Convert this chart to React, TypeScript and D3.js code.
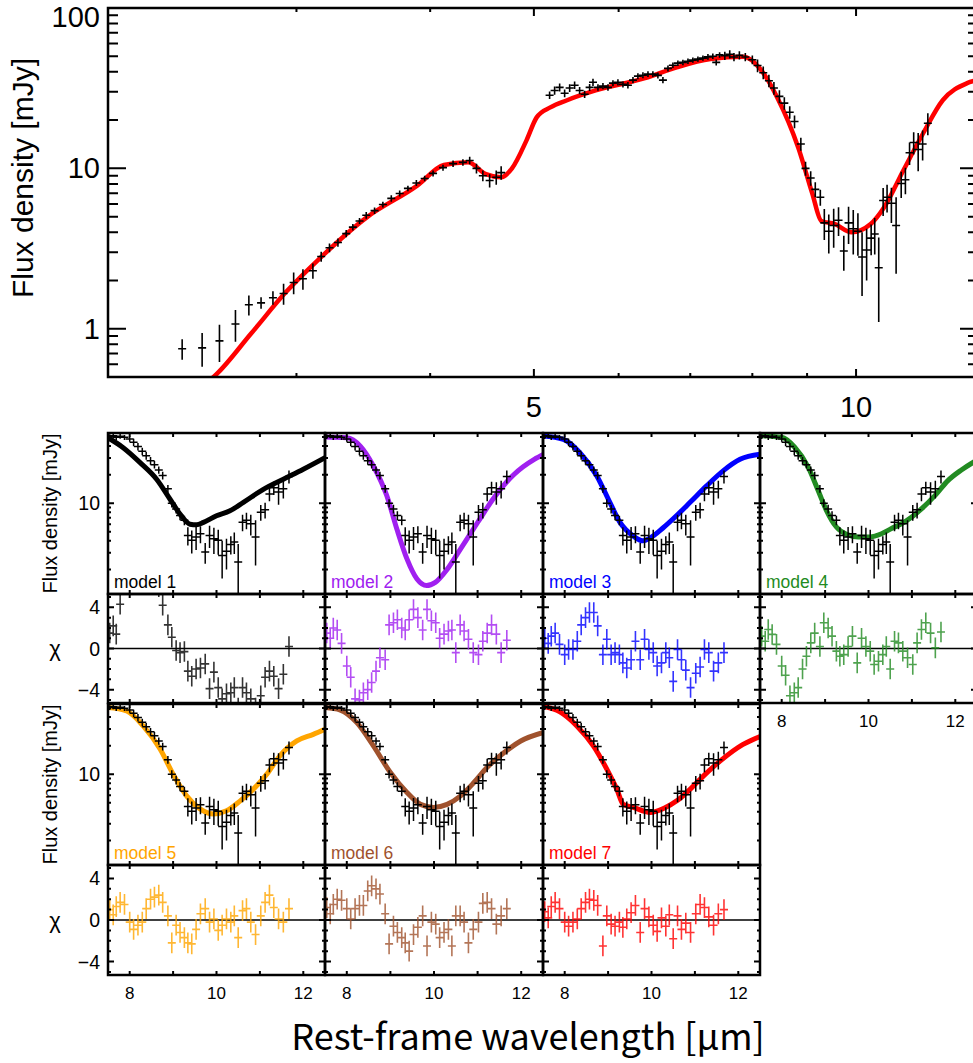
import React, { useEffect, useRef } from 'react';
import * as d3 from 'd3';

// spectrum below 7.5 um (only in the top panel): wavelength [um], flux [mJy], error [mJy]
const shortLam = [2.346, 2.449, 2.542, 2.631, 2.708, 2.78, 2.852, 2.918, 2.982, 3.042, 3.108, 3.164, 3.221, 3.28, 3.339, 3.387, 3.436, 3.486, 3.549, 3.613, 3.679, 3.746, 3.813, 3.883, 3.953, 4.025, 4.112, 4.202, 4.292, 4.355, 4.419, 4.48, 4.546, 4.611, 4.66, 5.172, 5.228, 5.285, 5.342, 5.4, 5.458, 5.517, 5.577, 5.637, 5.678, 5.739, 5.801, 5.864, 5.927, 5.991, 6.056, 6.121, 6.188, 6.254, 6.322, 6.391, 6.459, 6.529, 6.6, 6.672, 6.743, 6.816, 6.89, 6.965, 7.039, 7.116, 7.193, 7.271, 7.348, 7.402, 7.456];
const shortFlux = [0.75, 0.76, 0.84, 1.07, 1.41, 1.45, 1.56, 1.66, 1.94, 2.05, 2.3, 2.82, 3.2, 3.45, 3.92, 4.3, 4.7, 5.1, 5.45, 5.95, 6.5, 6.97, 7.5, 8.1, 8.65, 9.3, 10.1, 10.7, 10.9, 11.2, 10.0, 9.0, 8.4, 8.8, 9.4, 28.6, 30.6, 32, 29.4, 31.7, 33, 30.6, 29, 32, 34.4, 32, 32.6, 32, 34, 34.4, 33.4, 33, 35.5, 37.6, 38.1, 38.7, 38.7, 38, 35.5, 42, 44, 45.3, 45.8, 46.6, 47.3, 48, 48.7, 49.6, 50, 45.8, 51];
const shortErr = [0.11, 0.18, 0.22, 0.24, 0.2, 0.12, 0.15, 0.25, 0.3, 0.3, 0.25, 0.2, 0.2, 0.2, 0.2, 0.2, 0.2, 0.25, 0.25, 0.25, 0.3, 0.3, 0.3, 0.35, 0.35, 0.4, 0.45, 0.5, 0.5, 0.6, 0.7, 0.7, 0.8, 0.9, 0.9, 1.5, 1.8, 1.8, 1.6, 1.8, 1.8, 1.6, 1.5, 1.6, 1.8, 1.5, 1.5, 1.5, 1.5, 1.5, 1.5, 1.5, 1.6, 1.6, 1.6, 1.6, 1.6, 1.6, 1.6, 1.8, 1.8, 1.8, 1.8, 1.8, 1.8, 1.8, 1.8, 2.0, 2.0, 2.0, 2.0];

// spectrum 7.5 - 11.7 um (top panel and every model panel)
const gridLam = [7.54, 7.62, 7.69, 7.78, 7.88, 8.0, 8.09, 8.19, 8.29, 8.38, 8.48, 8.57, 8.67, 8.76, 8.88, 8.97, 9.07, 9.16, 9.26, 9.34, 9.43, 9.53, 9.63, 9.74, 9.84, 9.94, 10.04, 10.13, 10.23, 10.33, 10.41, 10.5, 10.6, 10.69, 10.79, 10.9, 11.02, 11.12, 11.22, 11.32, 11.43, 11.54, 11.67];
const gridFlux = [50.4, 51.5, 49.5, 50.7, 49.5, 47.6, 43.8, 39.5, 35.2, 31.7, 28.1, 25.5, 22.4, 19.6, 14.2, 10.0, 8.7, 7.4, 6.6, 4.57, 4.05, 4.4, 4.75, 3.05, 4.57, 4.2, 4.05, 2.8, 3.1, 3.67, 3.9, 2.4, 6.3, 6.6, 6.06, 4.4, 8.04, 8.5, 12.5, 14.5, 13.1, 14.2, 19.1];
const gridErr = [3, 3, 3, 3, 3, 3, 4.0, 3.6, 3.2, 2.9, 2.6, 2.3, 2.0, 1.8, 1.3, 1.0, 0.9, 0.8, 0.75, 1.0, 1.1, 1.2, 0.97, 0.75, 1.2, 1.3, 1.2, 1.2, 1.1, 0.8, 1.0, 1.3, 1.25, 1.3, 1.5, 2.2, 1.5, 1.6, 2.0, 2.3, 3.5, 3.0, 3.0];

// best-fit model in the top panel [um, mJy]
const topModel: [number, number][] = [[2.45, 0.44], [2.51, 0.5], [2.72, 0.93], [2.93, 1.68], [3.16, 2.78], [3.49, 4.95], [3.89, 7.8], [4.12, 10.5], [4.34, 10.9], [4.51, 9.2], [4.66, 8.8], [4.77, 10], [4.92, 14.9], [5.03, 20.8], [5.18, 24], [5.37, 26.6], [5.71, 30.6], [6.35, 36.5], [6.81, 42.8], [7.31, 48], [7.85, 49.6], [8.13, 42], [8.44, 27.7], [8.83, 13.5], [9.1, 7.0], [9.28, 4.7], [9.55, 4.5], [9.9, 4.0], [10.32, 4.5], [10.62, 5.7], [11.07, 9.7], [11.55, 16.5], [12.05, 26.6], [12.7, 34], [13.1, 36]];

// silicate models 1-7 [um, mJy]
const model1: [number, number][] = [[7.5, 49], [7.85, 38.5], [8.24, 26.8], [8.62, 17.9], [8.93, 11.0], [9.16, 7.66], [9.39, 6.0], [9.54, 5.9], [9.7, 6.26], [10.0, 7.36], [10.31, 8.3], [10.62, 10.2], [11.08, 14.0], [11.54, 17.9], [12.0, 22.8], [12.5, 30.2]];
const model2: [number, number][] = [[7.5, 50], [8.0, 49], [8.31, 40], [8.61, 24.7], [8.92, 11.9], [9.15, 5.3], [9.38, 2.58], [9.61, 1.58], [9.83, 1.35], [10.03, 1.46], [10.3, 2.0], [10.61, 3.3], [11.0, 6.25], [11.38, 11.5], [11.84, 20.2], [12.3, 29], [12.52, 32.8]];
const model3: [number, number][] = [[7.5, 51], [7.97, 47], [8.35, 34], [8.74, 19.4], [9.04, 10.2], [9.27, 6.3], [9.58, 4.5], [9.8, 4.0], [9.97, 4.3], [10.27, 5.5], [10.58, 7.4], [10.89, 10.2], [11.27, 15.2], [11.65, 21.9], [12.04, 29], [12.5, 32.8]];
const model4: [number, number][] = [[7.5, 51.6], [8.0, 49.5], [8.3, 38.9], [8.61, 24.0], [8.84, 13.6], [9.03, 8.4], [9.26, 5.6], [9.49, 4.7], [9.76, 4.4], [10.03, 4.4], [10.3, 4.75], [10.53, 5.4], [10.76, 6.06], [10.99, 7.1], [11.22, 8.7], [11.53, 12.0], [11.83, 17.3], [12.14, 22.4], [12.5, 28.5]];
const model5: [number, number][] = [[7.5, 50.4], [7.93, 46.4], [8.31, 32.3], [8.7, 18.4], [9.0, 10], [9.31, 5.9], [9.62, 4.3], [9.93, 3.8], [10.23, 4.1], [10.54, 5.2], [10.85, 6.95], [11.16, 10], [11.46, 15.6], [11.85, 22.4], [12.23, 26.3], [12.5, 29.7]];
const model6: [number, number][] = [[7.5, 50.4], [7.85, 47.5], [8.23, 35], [8.61, 19.9], [9.0, 10.4], [9.38, 6.4], [9.69, 4.8], [9.99, 4.46], [10.3, 4.8], [10.61, 5.9], [10.92, 8.2], [11.22, 11.8], [11.61, 16.9], [11.99, 22.4], [12.49, 27.4]];
const model7: [number, number][] = [[7.5, 52], [7.89, 45.4], [8.28, 32.3], [8.66, 19.9], [8.97, 11.3], [9.2, 6.95], [9.35, 4.8], [9.58, 4.46], [9.97, 3.95], [10.3, 4.4], [10.6, 5.3], [10.9, 7.0], [11.2, 9.6], [11.6, 14], [12.1, 20.5], [12.5, 25]];

// residuals chi for each model, same wavelengths as gridLam
const chi1 = [1.5, 2.2, 1.4, 4.3, 7, 8, 9, 9, 9, 8, 8, 7, 6, 4.2, 2.3, 1.1, -0.2, -0.4, -0.3, -2.2, -2.7, -2.0, -1.9, -1.5, -3.9, -2.3, -3.8, -4.9, -4.4, -4.3, -3.8, -5.8, -3.8, -4.3, -4.9, -5.8, -4.6, -2.8, -2.2, -2.7, -3.9, -2.5, 0.2];
const chi2 = [1.5, 1.0, 2.0, 1.8, 0.5, -1.7, -2.8, -4.9, -5.0, -4.3, -4.0, -3.3, -2.2, -0.9, -1.1, 2.3, 2.5, 2.8, 2.0, 1.8, 2.8, 3.8, 3.0, 1.8, 3.8, 2.7, 2.5, 1.0, 1.4, 1.7, 1.8, -0.4, 2.3, 1.7, 0.9, -0.4, -0.6, 0.7, 1.5, 2.3, 1.4, -0.4, 0.8];
const chi3 = [1.0, 0.5, 1.2, 1.5, 0.4, -0.6, -0.1, -0.1, 0.7, 2.3, 3.0, 3.5, 3.5, 2.2, -0.6, 0.9, -0.6, -0.4, -0.6, -1.4, -1.9, -1.1, 0.7, -1.1, 0.9, -0.1, -0.4, -1.7, -1.4, -0.4, -0.9, -3.2, -0.1, -1.1, -2.1, -3.8, -2.4, -1.8, -0.1, -0.4, -2.2, -1.4, -0.4];
const chi4 = [1.2, 0.7, 1.85, 1.37, 0.4, -1.7, -2.6, -4.6, -4.3, -3.8, -2.0, -0.75, 0.55, 1.5, 0.2, 2.5, 2.0, 1.2, -0.26, -0.75, -0.6, 0.2, 1.2, -1.4, 1.0, 0.2, -0.26, -1.56, -1.24, -0.6, 0.2, -2.0, 0.7, 0.55, -0.26, -0.9, -1.56, 0.55, 1.85, 2.5, 1.5, 0.06, 1.6];
const chi5 = [1.0, 0.5, 1.3, 1.7, 1.5, -0.2, -0.9, -0.5, -0.2, 1.1, 2.0, 2.2, 2.4, 1.7, 0.4, -2.2, -0.5, -1.2, -1.7, -2.2, -2.3, -0.9, 0.6, 1.1, -0.2, 0.1, -1.0, -0.5, 0.1, -0.2, 0.4, -1.7, 0.9, 1.1, -0.2, -1.4, 0.4, 1.7, 2.4, 1.2, 0.1, -0.2, 1.1];
const chi6 = [1.2, 0.6, 1.5, 2.0, 1.9, 1.1, 0.1, 1.1, 1.4, 1.4, 2.8, 3.3, 3.0, 2.5, 0.6, -2.3, -0.6, -1.2, -1.7, -2.2, -3.0, -1.4, -0.7, 0.4, -2.5, -0.2, -0.4, -1.7, -1.2, -0.9, -2.5, 0.4, 0.4, -0.2, -2.2, -0.9, -0.2, 1.6, 1.7, 1.1, -0.4, 0.4, 1.1];
const chi7 = [0.8, 0.2, 1.3, 1.7, 1.1, -0.2, -0.6, -0.2, 0.1, 1.1, 1.7, 2.0, 1.9, 1.4, -2.5, 0.4, -0.4, -0.6, -0.2, -0.7, 0.1, 0.7, 1.4, -1.2, 1.1, 0.3, -0.5, -1.1, 0.2, -0.6, 0.5, -1.8, 0.4, -0.9, -0.3, -1.2, 0.6, 1.5, 1.2, 0.3, -0.5, 0.6, 1.0];

const modelNames = ['model 1', 'model 2', 'model 3', 'model 4', 'model 5', 'model 6', 'model 7'];
const modelColors = ['#000000', '#a020f0', '#0000ff', '#228b22', '#ffa500', '#a0522d', '#ff0000'];

const topXLabels = [5, 10];
const topYLabels = [1, 10, 100];
const smallXLabels = [8, 10, 12];
const smallYLabels = [10];
const chiLabels = [4, 0, -4];

const FONT = 'Liberation Sans, Arial, Helvetica, sans-serif';

const App: React.FC = () => {
  const svgRef = useRef<SVGSVGElement>(null);

  useEffect(() => {
    if (!svgRef.current) return;
    const svg = d3.select(svgRef.current);
    svg.selectAll('*').remove();
    const defs = svg.append('defs');

    const addClip = (id: string, x0: number, y0: number, x1: number, y1: number) => {
      defs.append('clipPath').attr('id', id).append('rect')
        .attr('x', x0).attr('y', y0).attr('width', x1 - x0).attr('height', y1 - y0);
    };

    // error-bar crosses
    const crosses = (g: any, lam: number[], val: number[], err: number[], x: any, y: any,
      hw: number, color: string, width: number, logY: boolean, opacity = 1) => {
      let d = '';
      lam.forEach((l, i) => {
        const v = val[i];
        const e = err[i];
        if (v === undefined) return;
        const px = x(l);
        const lo = logY ? Math.max(v - e, 0.05) : v - e;
        d += `M${px},${y(lo)}V${y(v + e)}M${px - hw},${y(v)}H${px + hw}`;
      });
      g.append('path').attr('d', d).attr('fill', 'none')
        .attr('stroke', color).attr('stroke-width', width).attr('stroke-opacity', opacity);
    };

    // border + inward ticks on all four sides
    const frame = (g: any, x: any, y: any, xTicks: number[], xMajor: (v: number) => boolean, xMaj: number, xMin: number,
      yTicks: number[], yMajor: (v: number) => boolean, yMaj: number, yMin: number, bw: number) => {
      const [x0, x1] = x.range();
      const [y0, y1] = y.range();
      let d = '';
      xTicks.forEach(v => {
        const px = x(v);
        const L = xMajor(v) ? xMaj : xMin;
        d += `M${px},${y0}v${-L}M${px},${y1}v${L}`;
      });
      yTicks.forEach(v => {
        const py = y(v);
        const L = yMajor(v) ? yMaj : yMin;
        d += `M${x0},${py}h${L}M${x1},${py}h${-L}`;
      });
      g.append('path').attr('d', d).attr('stroke', '#000').attr('stroke-width', 2).attr('fill', 'none');
      g.append('rect').attr('x', x0).attr('y', y1).attr('width', x1 - x0).attr('height', y0 - y1)
        .attr('fill', 'none').attr('stroke', '#000').attr('stroke-width', bw);
    };

    // ---------------- top panel ----------------
    const tx = d3.scaleLog().domain([2, 13]).range([108, 978]);
    const ty = d3.scaleLog().domain([0.5, 100]).range([377, 8]);
    addClip('clip-top', 108, 8, 978, 377);
    const gTop = svg.append('g');
    const pTop = gTop.append('g').attr('clip-path', 'url(#clip-top)');

    const line = (x: any, y: any) => d3.line<[number, number]>()
      .x(d => x(d[0])).y(d => y(d[1])).curve(d3.curveMonotoneX);

    pTop.append('path').datum(topModel).attr('d', line(tx, ty)).attr('fill', 'none')
      .attr('stroke', '#ff0000').attr('stroke-width', 4.5).attr('stroke-linejoin', 'round');
    crosses(pTop, shortLam, shortFlux, shortErr, tx, ty, 4, '#000', 1.6, true);
    crosses(pTop, gridLam, gridFlux, gridErr, tx, ty, 4, '#000', 1.6, true);

    const isDecade = (v: number) => Math.abs(Math.log10(v) - Math.round(Math.log10(v))) < 1e-6;
    frame(gTop, tx, ty, tx.ticks(), v => v === 5 || v === 10, 8, 4, ty.ticks(), isDecade, 18, 10, 2.5);

    topYLabels.forEach(v => {
      gTop.append('text').attr('x', 100).attr('y', Math.max(ty(v), 17))
        .attr('text-anchor', 'end').attr('dominant-baseline', 'central')
        .attr('font-family', FONT).attr('font-size', 29).text(String(v));
    });
    topXLabels.forEach(v => {
      gTop.append('text').attr('x', tx(v)).attr('y', 417)
        .attr('text-anchor', 'middle').attr('font-family', FONT).attr('font-size', 29).text(String(v));
    });
    gTop.append('text').attr('transform', 'translate(33,178) rotate(-90)')
      .attr('text-anchor', 'middle').attr('font-family', FONT).attr('font-size', 30)
      .text('Flux density [mJy]');

    // ---------------- model panels ----------------
    const colX = [108, 325, 543, 760, 977];
    const rows = [
      { fluxTop: 433, fluxBot: 594, chiBot: 703 },
      { fluxTop: 704, fluxBot: 865, chiBot: 975 },
    ];
    const models = [model1, model2, model3, model4, model5, model6, model7];
    const chis = [chi1, chi2, chi3, chi4, chi5, chi6, chi7];
    const ones = gridLam.map(() => 1);

    models.forEach((m, i) => {
      const col = i < 4 ? i : i - 4;
      const row = i < 4 ? 0 : 1;
      const x0 = colX[col];
      const x1 = colX[col + 1];
      const r = rows[row];
      const color = modelColors[i];

      const sx = d3.scaleLinear().domain([7.5, 12.5]).range([x0, x1]);
      const sy = d3.scaleLog().domain([1.1, 55]).range([r.fluxBot, r.fluxTop]);
      const sc = d3.scaleLinear().domain([-5.3, 5.3]).range([r.chiBot, r.fluxBot]);

      const g = svg.append('g');
      addClip(`clip-f${i}`, x0, r.fluxTop, x1, r.fluxBot);
      addClip(`clip-c${i}`, x0, r.fluxBot, x1, r.chiBot);

      // flux panel
      const pf = g.append('g').attr('clip-path', `url(#clip-f${i})`);
      pf.append('path').datum(m).attr('d', line(sx, sy)).attr('fill', 'none')
        .attr('stroke', color).attr('stroke-width', 5).attr('stroke-linejoin', 'round');
      crosses(pf, gridLam, gridFlux, gridErr, sx, sy, 4, '#000', 1.5, true);

      // chi panel
      const pc = g.append('g').attr('clip-path', `url(#clip-c${i})`);
      pc.append('line').attr('x1', x0).attr('x2', x1).attr('y1', sc(0)).attr('y2', sc(0))
        .attr('stroke', '#000').attr('stroke-width', 1.5);
      crosses(pc, gridLam, chis[i], ones, sx, sc, 4, color, 1.6, false, 0.8);

      const xt = sx.ticks(5);
      frame(g, sx, sy, xt, () => false, 4, 4, sy.ticks(), isDecade, 6, 3, 2.5);
      frame(g, sx, sc, xt, () => false, 4, 4, sc.ticks(10), v => v % 4 === 0, 6, 3, 2.5);

      g.append('text').attr('x', x0 + 6).attr('y', r.fluxBot - 6)
        .attr('font-family', FONT).attr('font-size', 17.5).attr('fill', color).text(modelNames[i]);

      if (col === 0) {
        smallYLabels.forEach(v => {
          g.append('text').attr('x', 100).attr('y', sy(v)).attr('text-anchor', 'end')
            .attr('dominant-baseline', 'central').attr('font-family', FONT).attr('font-size', 19.5).text(String(v));
        });
        chiLabels.forEach(v => {
          g.append('text').attr('x', 100).attr('y', sc(v)).attr('text-anchor', 'end')
            .attr('dominant-baseline', 'central').attr('font-family', FONT).attr('font-size', 19.5)
            .text(v < 0 ? `\u2212${Math.abs(v)}` : String(v));
        });
        const my = (r.fluxTop + r.fluxBot) / 2;
        g.append('text').attr('transform', `translate(57,${my}) rotate(-90)`)
          .attr('text-anchor', 'middle').attr('font-family', FONT).attr('font-size', 20)
          .text('Flux density [mJy]');
        g.append('text').attr('x', 55).attr('y', sc(0)).attr('text-anchor', 'middle')
          .attr('dominant-baseline', 'central').attr('font-family', FONT).attr('font-size', 22)
          .text('\u03c7');
      }
      if (row === 1 || col === 3) {
        smallXLabels.forEach(v => {
          g.append('text').attr('x', sx(v)).attr('y', r.chiBot + 24).attr('text-anchor', 'middle')
            .attr('font-family', FONT).attr('font-size', 17).text(String(v));
        });
      }
    });

    svg.append('text').attr('x', 528).attr('y', 1050).attr('text-anchor', 'middle')
      .attr('font-family', '"Noto Sans CJK JP", "Noto Sans", sans-serif').attr('font-size', 36)
      .text('Rest-frame wavelength [\u03bcm]');
  }, []);

  return (
    <svg ref={svgRef} width={973} height={1063}
      style={{ position: 'absolute', left: 0, top: 0, background: '#fff' }} />
  );
};

export default App;
